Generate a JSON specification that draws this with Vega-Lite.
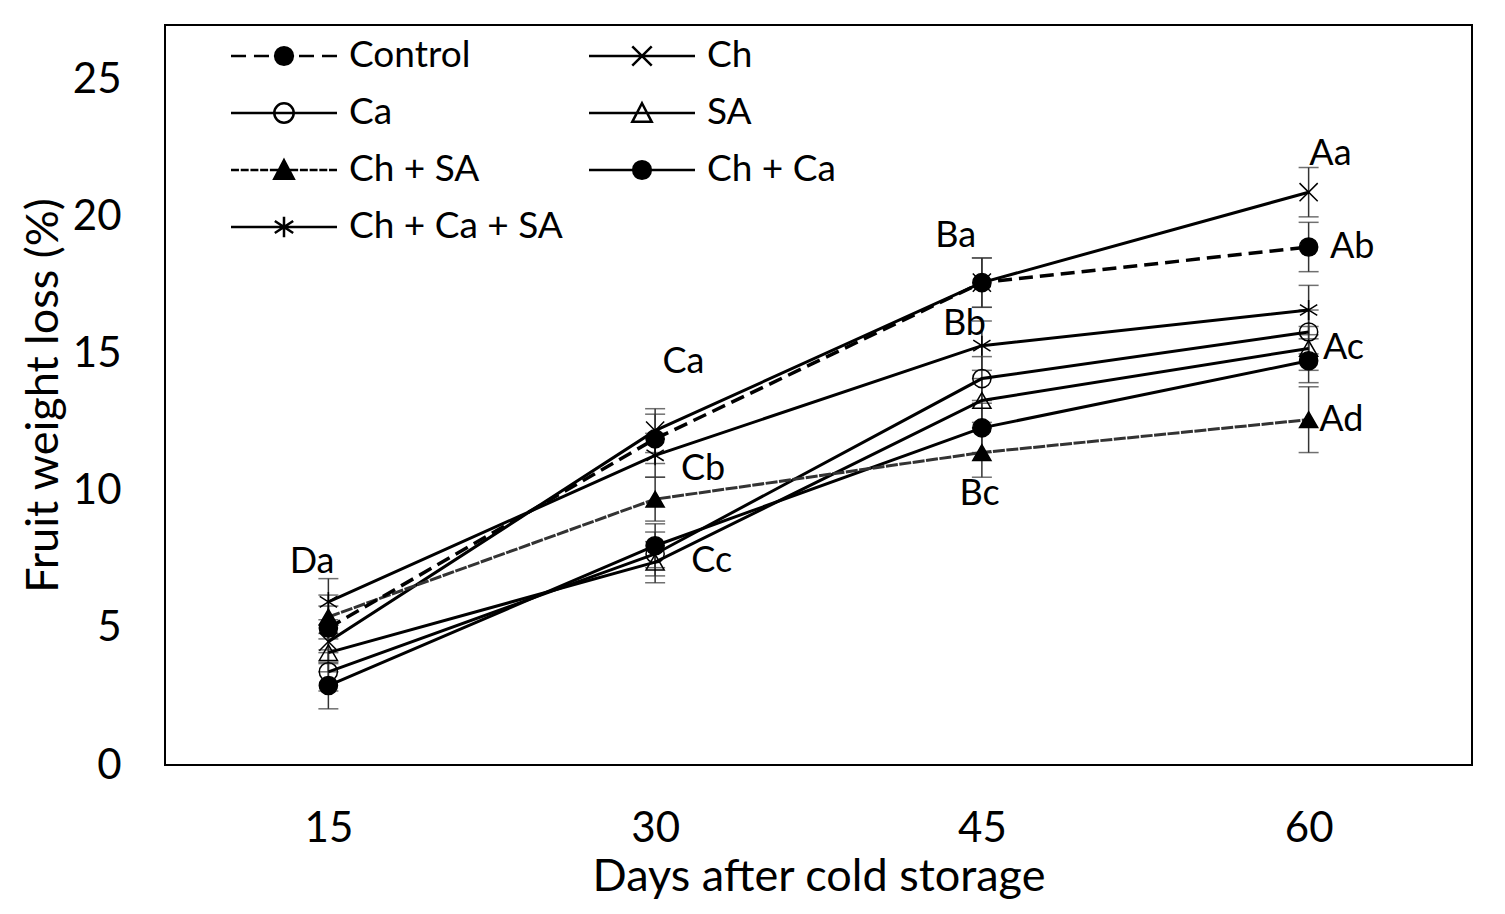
{
  "$schema": "https://vega.github.io/schema/vega-lite/v6.json",
  "autosize": "none",
  "padding": {"left": 165, "top": 25, "right": 33, "bottom": 149},
  "width": 1307,
  "height": 740,
  "background": "white",
  "config": {
    "view": {"stroke": "black", "strokeWidth": 2},
    "font": "Lato",
    "axis": {"grid": false, "ticks": false, "domain": false, "labelColor": "black", "titleColor": "black", "labelFont": "Lato", "titleFont": "Lato", "titleFontWeight": "normal"}
  },
  "datasets": {
    "loss": [
      {"series": "Control", "day": 15, "value": 5.0, "err": 0.8},
      {"series": "Control", "day": 30, "value": 11.9, "err": 0.9},
      {"series": "Control", "day": 45, "value": 17.6, "err": 0.9},
      {"series": "Control", "day": 60, "value": 18.9, "err": 0.9},
      {"series": "Ch", "day": 15, "value": 4.5, "err": 0.8},
      {"series": "Ch", "day": 30, "value": 12.2, "err": 0.8},
      {"series": "Ch", "day": 45, "value": 17.6, "err": 0.9},
      {"series": "Ch", "day": 60, "value": 20.9, "err": 0.9},
      {"series": "Ca", "day": 15, "value": 3.4, "err": 0.7},
      {"series": "Ca", "day": 30, "value": 7.7, "err": 0.8},
      {"series": "Ca", "day": 45, "value": 14.1, "err": 0.8},
      {"series": "Ca", "day": 60, "value": 15.8, "err": 0.8},
      {"series": "SA", "day": 15, "value": 4.1, "err": 0.7},
      {"series": "SA", "day": 30, "value": 7.4, "err": 0.75},
      {"series": "SA", "day": 45, "value": 13.3, "err": 0.8},
      {"series": "SA", "day": 60, "value": 15.2, "err": 0.8},
      {"series": "Ch + SA", "day": 15, "value": 5.4, "err": 0.8},
      {"series": "Ch + SA", "day": 30, "value": 9.7, "err": 0.8},
      {"series": "Ch + SA", "day": 45, "value": 11.4, "err": 0.9},
      {"series": "Ch + SA", "day": 60, "value": 12.6, "err": 1.2},
      {"series": "Ch + Ca", "day": 15, "value": 2.9, "err": 0.85},
      {"series": "Ch + Ca", "day": 30, "value": 8.0, "err": 0.8},
      {"series": "Ch + Ca", "day": 45, "value": 12.3, "err": 0.9},
      {"series": "Ch + Ca", "day": 60, "value": 14.75, "err": 0.8},
      {"series": "Ch + Ca + SA", "day": 15, "value": 5.95, "err": 0.85},
      {"series": "Ch + Ca + SA", "day": 30, "value": 11.3, "err": 0.8},
      {"series": "Ch + Ca + SA", "day": 45, "value": 15.3, "err": 0.9},
      {"series": "Ch + Ca + SA", "day": 60, "value": 16.6, "err": 0.9}
    ],
    "letters": [
      {"label": "Da", "day": 14.25, "value": 7.4},
      {"label": "Ca", "day": 31.3, "value": 14.7},
      {"label": "Cb", "day": 32.2, "value": 10.8},
      {"label": "Cc", "day": 32.6, "value": 7.45},
      {"label": "Ba", "day": 43.8, "value": 19.3},
      {"label": "Bb", "day": 44.2, "value": 16.1},
      {"label": "Bc", "day": 44.9, "value": 9.9},
      {"label": "Aa", "day": 61.0, "value": 22.3},
      {"label": "Ab", "day": 62.0, "value": 18.9},
      {"label": "Ac", "day": 61.6, "value": 15.2},
      {"label": "Ad", "day": 61.5, "value": 12.6}
    ]
  },
  "encoding": {
    "x": {
      "field": "day", "type": "quantitative",
      "scale": {"domain": [7.5, 67.5], "nice": false, "zero": false},
      "axis": {"values": [15, 30, 45, 60], "labelFontSize": 42, "labelPadding": 43, "title": "Days after cold storage", "titleFontSize": 45, "titlePadding": 5}
    },
    "y": {
      "field": "value", "type": "quantitative",
      "scale": {"domain": [0, 27], "nice": false},
      "axis": {"values": [0, 5, 10, 15, 20, 25], "labelFontSize": 42, "labelPadding": 44, "title": "Fruit weight loss (%)", "titleFontSize": 45, "titlePadding": 6}
    }
  },
  "layer": [
    {
      "data": {"name": "loss"},
      "mark": {"type": "errorbar", "ticks": {"size": 20, "thickness": 1.5, "color": "#333"}, "rule": {"strokeWidth": 1.5, "color": "#333"}},
      "encoding": {
        "y": {"field": "value", "type": "quantitative"},
        "yError": {"field": "err"},
        "detail": {"field": "series"}
      }
    },
    {
      "data": {"name": "loss"},
      "transform": [{"filter": "datum.series !== 'Control' && datum.series !== 'Ch + SA'"}],
      "mark": {"type": "line", "strokeWidth": 3, "color": "black"},
      "encoding": {"detail": {"field": "series"}}
    },
    {
      "data": {"name": "loss"},
      "transform": [{"filter": "datum.series === 'Ch + SA'"}],
      "mark": {"type": "line", "strokeWidth": 3, "color": "#333", "strokeDash": [12, 1.5]},
      "encoding": {"detail": {"field": "series"}}
    },
    {
      "data": {"name": "loss"},
      "transform": [{"filter": "datum.series === 'Control'"}],
      "mark": {"type": "line", "strokeWidth": 3.5, "color": "black", "strokeDash": [14, 7]},
      "encoding": {"detail": {"field": "series"}}
    },
    {
      "data": {"name": "loss"},
      "mark": {"type": "point", "size": 330, "stroke": "black", "strokeWidth": 1.5, "opacity": 1},
      "encoding": {
        "shape": {
          "condition": [
            {"test": "datum.series === 'Ch'", "value": "M-1,-1L1,1M-1,1L1,-1"},
            {"test": "datum.series === 'Ch + Ca + SA'", "value": "M0,-1.1L0,1.1M-0.95,-0.6L0.95,0.6M-0.95,0.6L0.95,-0.6"},
            {"test": "datum.series === 'SA' || datum.series === 'Ch + SA'", "value": "triangle-up"}
          ],
          "value": "circle"
        },
        "fill": {
          "condition": {"test": "datum.series === 'Control' || datum.series === 'Ch + SA' || datum.series === 'Ch + Ca'", "value": "black"},
          "value": "transparent"
        }
      }
    },
    {
      "data": {"name": "letters"},
      "mark": {"type": "text", "fontSize": 36, "font": "Lato", "align": "center", "baseline": "middle", "color": "black"},
      "encoding": {
        "text": {"field": "label"}
      }
    },
    {
      "data": {"name": "loss"},
      "transform": [{"filter": "datum.day < 0"}],
      "mark": {"type": "point", "filled": false, "color": "black", "strokeWidth": 2.5, "opacity": 1},
      "encoding": {
        "shape": {
          "field": "series",
          "scale": {"domain": ["Control", "Ca", "Ch + SA", "Ch + Ca + SA", "Ch", "SA", "Ch + Ca"], "range": [
            "M-3,0H-2.15M-1.7,0H-0.85M-0.57,0H0.57M-0.5,0A0.5,0.5,0,1,1,0.5,0A0.5,0.5,0,1,1,-0.5,0ZM-0.37,0A0.37,0.37,0,1,1,0.37,0A0.37,0.37,0,1,1,-0.37,0ZM-0.24,0A0.24,0.24,0,1,1,0.24,0A0.24,0.24,0,1,1,-0.24,0ZM-0.11,0A0.11,0.11,0,1,1,0.11,0A0.11,0.11,0,1,1,-0.11,0ZM0.85,0H1.7M2.15,0H3",
            "M-3,0H3M-0.55,0A0.55,0.55,0,1,1,0.55,0A0.55,0.55,0,1,1,-0.55,0Z",
            "M-3,0H-2.55M-2.45,0H-2M-1.9,0H-1.45M-1.35,0H-0.9M-0.8,0H0.8M0.9,0H1.35M1.45,0H1.9M2,0H2.45M2.55,0H3M0,-0.55L0.55,0.5L-0.55,0.5ZM0,-0.3L0.36,0.38L-0.36,0.38ZM0,-0.06L0.17,0.26L-0.17,0.26ZM0,0.05L0,0.22",
            "M-3,0H3M0,-0.58L0,0.58M-0.52,-0.34L0.52,0.34M-0.52,0.34L0.52,-0.34",
            "M-3,0H3M-0.55,-0.55L0.55,0.55M-0.55,0.55L0.55,-0.55",
            "M-3,0H3M0,-0.55L0.55,0.5L-0.55,0.5Z",
            "M-3,0H3M-0.5,0A0.5,0.5,0,1,1,0.5,0A0.5,0.5,0,1,1,-0.5,0ZM-0.37,0A0.37,0.37,0,1,1,0.37,0A0.37,0.37,0,1,1,-0.37,0ZM-0.24,0A0.24,0.24,0,1,1,0.24,0A0.24,0.24,0,1,1,-0.24,0ZM-0.11,0A0.11,0.11,0,1,1,0.11,0A0.11,0.11,0,1,1,-0.11,0Z"
          ]},
          "legend": {"title": null, "orient": "none", "legendX": 100, "legendY": 12, "columns": 2, "columnPadding": 21, "rowPadding": 20, "symbolSize": 1248, "symbolStrokeWidth": 2.5, "symbolStrokeColor": "black", "symbolFillColor": "transparent", "labelFontSize": 37, "labelFont": "Lato", "labelColor": "black", "labelOffset": 46, "labelLimit": 400, "padding": 0}
        }
      }
    }
  ]
}
